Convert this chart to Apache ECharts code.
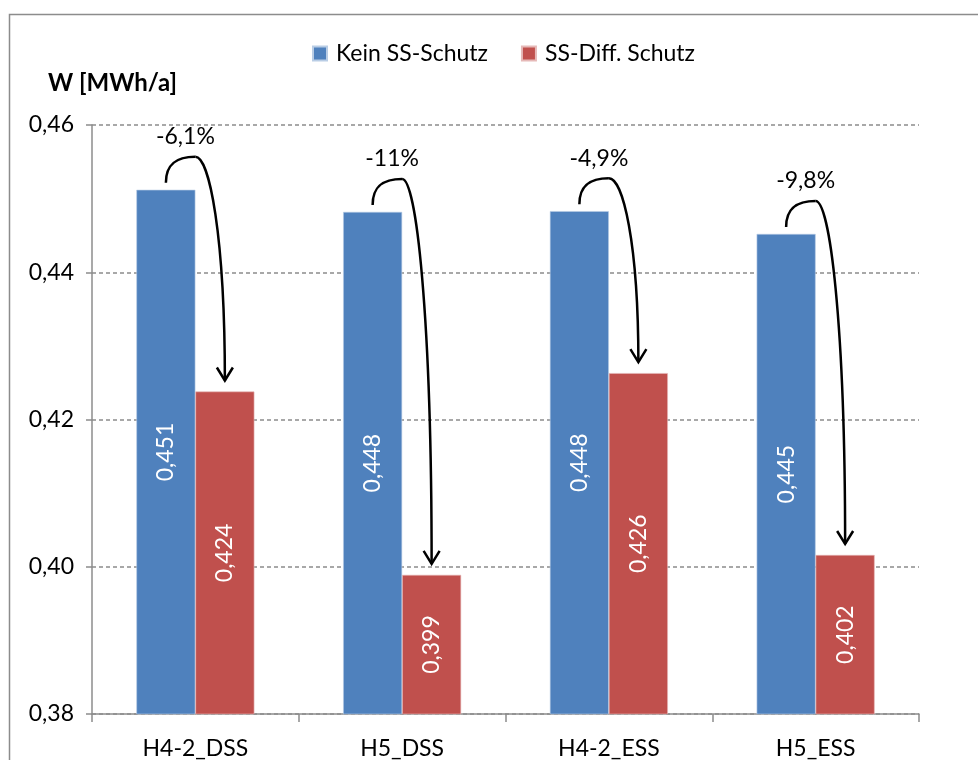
<!DOCTYPE html>
<html>
<head>
<meta charset="utf-8">
<script src="https://cdn.jsdelivr.net/npm/echarts@6/dist/echarts.min.js"></script>
<style>
  html, body { margin: 0; padding: 0; background: #fff; }
  #chart { width: 978px; height: 760px; }
</style>
</head>
<body>
<div id="chart"></div>
<script>
// Daten
const categories = ['H4-2_DSS', 'H5_DSS', 'H4-2_ESS', 'H5_ESS']
const keinSchutz = [0.4512, 0.4482, 0.4483, 0.4452]
const diffSchutz = [0.4238, 0.3989, 0.4263, 0.4016]
const pctLabels = ['-6,1%', '-11%', '-4,9%', '-9,8%']
const yTicks = { min: 0.38, max: 0.46, step: 0.02 }

const FONT = 'Lato'
const FS = 23
const BAR_W = 59
const comma = (v, d) => v.toFixed(d).replace('.', ',')

const chart = echarts.init(document.getElementById('chart'))

const option = {
  backgroundColor: '#fff',
  textStyle: { fontFamily: FONT },
  animation: false,
  graphic: [
    {
      type: 'rect',
      left: 7,
      top: 12,
      shape: { width: 1000, height: 800 },
      style: { fill: 'none', stroke: '#8c8c8c', lineWidth: 1.5 },
      silent: true
    }
  ],
  title: {
    text: 'W [MWh/a]',
    left: 43,
    top: 66,
    textStyle: { fontFamily: FONT, fontSize: 24, fontWeight: 'bold', color: '#000' }
  },
  legend: {
    top: 37,
    left: 307,
    itemWidth: 14,
    itemHeight: 14,
    itemGap: 33,
    icon: 'rect',
    data: ['Kein SS-Schutz', 'SS-Diff. Schutz'],
    textStyle: { fontFamily: FONT, fontSize: FS, color: '#000', padding: [0, 0, 0, 4] }
  },
  grid: { left: 92, right: 59, top: 125, bottom: 46, containLabel: false },
  xAxis: {
    type: 'category',
    data: categories,
    axisLine: { lineStyle: { color: '#8c8c8c', width: 1.5 } },
    axisTick: { show: true, length: 8, lineStyle: { color: '#8c8c8c', width: 1.5 } },
    axisLabel: { fontFamily: FONT, fontSize: FS, color: '#000', margin: 23 }
  },
  yAxis: {
    type: 'value',
    min: yTicks.min,
    max: yTicks.max,
    interval: yTicks.step,
    axisLine: { show: true, lineStyle: { color: '#8c8c8c', width: 1.5 } },
    axisTick: { show: true, length: 6, lineStyle: { color: '#8c8c8c', width: 1.5 } },
    axisLabel: {
      fontFamily: FONT, fontSize: FS, color: '#000', margin: 18,
      formatter: v => comma(v, 2)
    },
    splitLine: { lineStyle: { color: '#8c8c8c', type: [4, 3], width: 1.5 } }
  },
  series: [
    {
      name: 'Kein SS-Schutz',
      type: 'bar',
      data: keinSchutz,
      barWidth: BAR_W,
      barGap: '0%',
      itemStyle: { color: '#4F81BD', borderColor: '#b9cde5', borderWidth: 0.6 },
      label: {
        show: true, position: 'inside', rotate: 90,
        fontFamily: FONT, fontSize: FS, color: '#fff',
        formatter: p => comma(p.value, 3)
      }
    },
    {
      name: 'SS-Diff. Schutz',
      type: 'bar',
      data: diffSchutz,
      barWidth: BAR_W,
      barGap: '0%',
      itemStyle: { color: '#C0504D', borderColor: '#e6b9b8', borderWidth: 0.6 },
      label: {
        show: true, position: 'inside', rotate: 90,
        fontFamily: FONT, fontSize: FS, color: '#fff',
        formatter: p => comma(p.value, 3)
      }
    },
    {
      // Pfeile mit Prozentangaben
      name: 'pfeile',
      type: 'custom',
      silent: true,
      z: 10,
      data: categories.map((c, i) => [i, keinSchutz[i], diffSchutz[i]]),
      encode: { x: 0, y: [1, 2] },
      renderItem: (params, api) => {
        const i = api.value(0)
        const a = api.coord([i, api.value(1)])
        const b = api.coord([i, api.value(2)])
        const cx = a[0]
        const sx = cx - BAR_W / 2
        const sy = a[1] - 7
        const py = a[1] - 33
        const ex = cx + BAR_W / 2
        const ey = b[1] - 11
        const line = { stroke: '#000', lineWidth: 2.5, fill: 'none' }
        return {
          type: 'group',
          children: [
            {
              type: 'bezierCurve',
              shape: { x1: sx, y1: sy, cpx1: sx, cpy1: py + 6, cpx2: sx + 12, cpy2: py, x2: cx, y2: py },
              style: line
            },
            {
              type: 'bezierCurve',
              shape: { x1: cx, y1: py, cpx1: cx + 14, cpy1: py, cpx2: ex, cpy2: py + (ey - py) * 0.35, x2: ex, y2: ey },
              style: line
            },
            {
              type: 'polyline',
              shape: { points: [[ex - 8, ey - 13], [ex, ey], [ex + 8, ey - 13]] },
              style: line
            },
            {
              type: 'text',
              style: {
                x: cx - 10, y: py - 20,
                text: pctLabels[i],
                align: 'center', verticalAlign: 'middle',
                fontFamily: FONT, fontSize: FS, fill: '#000'
              }
            }
          ]
        }
      }
    }
  ]
}

chart.setOption(option)
</script>
</body>
</html>
